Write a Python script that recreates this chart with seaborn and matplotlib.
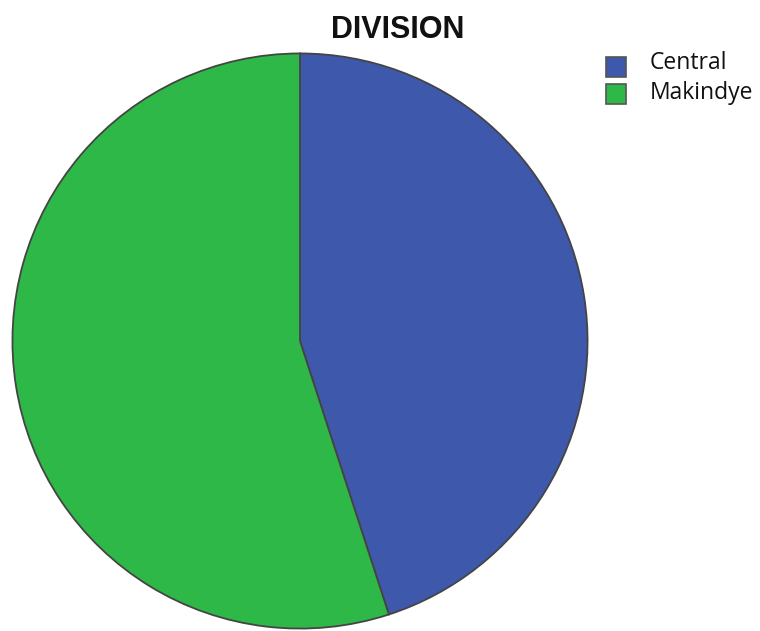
import matplotlib
matplotlib.use("Agg")
import matplotlib.pyplot as plt
from matplotlib.patches import Rectangle
import seaborn as sns

sns.set_theme(style="white")
plt.rcParams['font.family'] = ['Liberation Sans', 'DejaVu Sans']

categories = ["Central", "Makindye"]
values = [45.0, 55.0]
colors = ["#3e58ac", "#2eb848"]

W, H = 760, 631
fig = plt.figure(figsize=(W / 100, H / 100), dpi=100)
fig.patch.set_facecolor("white")

left, right, top, bottom = 11, 589, 52, 630
ax = fig.add_axes([left / W, (H - bottom) / H, (right - left) / W, (bottom - top) / H])
ax.pie(values, colors=colors, startangle=90, counterclock=False, radius=1,
       wedgeprops=dict(edgecolor="#444444", linewidth=1.3))
ax.set_xlim(-1.005, 1.005)
ax.set_ylim(-1.005, 1.005)
ax.set_aspect("equal")
ax.axis("off")

fig.text(398 / W, 1 - 30 / H, "DIVISION", ha="center", va="center",
         fontsize=22, fontweight="bold", color="#111111")

# legend
sq = 20
for i, (lab, c) in enumerate(zip(categories, colors)):
    cy = 67 + i * 27
    fig.add_artist(Rectangle((606 / W, 1 - (cy + sq / 2) / H), sq / W, sq / H,
                             transform=fig.transFigure, facecolor=c,
                             edgecolor="#555555", linewidth=1.2))
    base = 69 + i * 30
    fig.text(650 / W, 1 - base / H, lab, ha="left", va="baseline",
             fontsize=16.5, family=["Open Sans", "DejaVu Sans"], color="#111111")

fig.savefig("out.png", dpi=100, facecolor="white")
